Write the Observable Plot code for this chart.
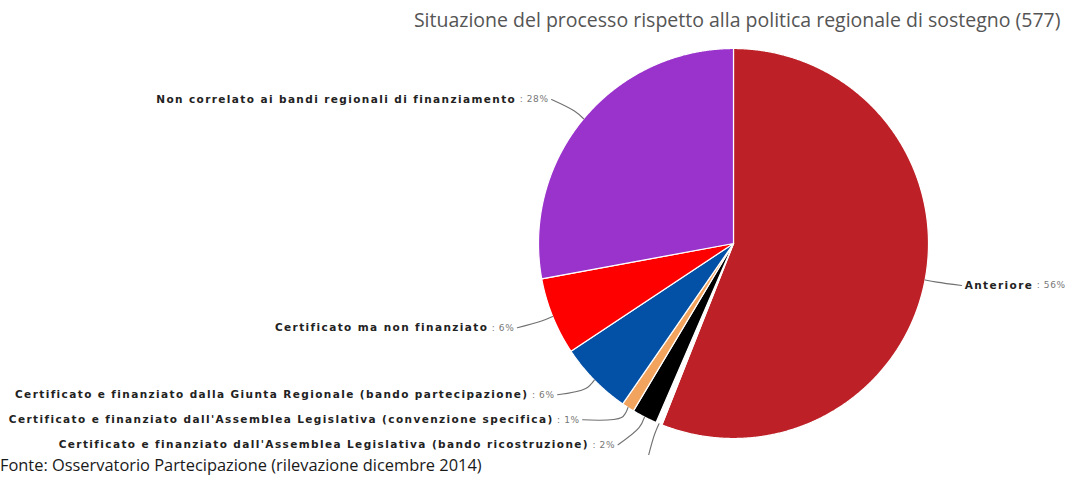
<!DOCTYPE html>
<html><head><meta charset="utf-8">
<script src="https://cdn.jsdelivr.net/npm/d3@7"></script>
<script src="https://cdn.jsdelivr.net/npm/@observablehq/plot@0.6"></script>
<style>
body{margin:0;background:#fff;}
#chart svg{display:block;overflow:hidden}
#foot{font-family:"Open Sans";font-size:16.4px;color:#1a1a1a;height:22px;line-height:20px;white-space:nowrap}
</style></head><body>
<div id="chart"></div>
<div id="foot">Fonte: Osservatorio Partecipazione (rilevazione dicembre 2014)</div>
<script>
// ---- data ----
const title = "Situazione del processo rispetto alla politica regionale di sostegno (577)";
const categories = [
  "Anteriore",
  "",
  "Certificato e finanziato dall'Assemblea Legislativa (bando ricostruzione)",
  "Certificato e finanziato dall'Assemblea Legislativa (convenzione specifica)",
  "Certificato e finanziato dalla Giunta Regionale (bando partecipazione)",
  "Certificato ma non finanziato",
  "Non correlato ai bandi regionali di finanziamento"
];
const counts = [323, 3, 12, 6, 35, 37, 161];
const pctLabels = ["56%", "", "2%", "1%", "6%", "6%", "28%"];
const colors = ["#BD2127", "#FFFFFF", "#000000", "#F2A35E", "#0351A6", "#FF0000", "#9A33CC"];

// ---- layout ----
const W = 1077, H = 455;
const cx = 733, cy = 243, r = 195, R = 232, RY = 225, gap = 25;
const LS_NAME = 1.4, LS_PCT = 0.6;

const arcs = d3.pie().sort(null).value(d => d)(counts);
const sliceRows = [];
arcs.forEach((a, i) => {
  sliceRows.push({i, x: cx, y: cy});
  const n = Math.max(2, Math.ceil((a.endAngle - a.startAngle) / 0.005));
  for (let k = 0; k <= n; k++) {
    const t = a.startAngle + (a.endAngle - a.startAngle) * k / n;
    sliceRows.push({i, x: cx + r * Math.sin(t), y: cy - r * Math.cos(t)});
  }
  sliceRows.push({i, x: cx, y: cy});
});

const labels = arcs.map((a, i) => {
  const m = (a.startAngle + a.endAngle) / 2;
  return {i, m, left: Math.sin(m) < 0, ideal: cy - RY * Math.cos(m)};
});
function distribute(items) {
  items.sort((a, b) => a.ideal - b.ideal);
  const place = c => { c.start = d3.mean(c.items, d => d.ideal) - (c.items.length - 1) * gap / 2; };
  const clusters = items.map(it => ({items: [it]}));
  clusters.forEach(place);
  let merged = true;
  while (merged) {
    merged = false;
    for (let k = 0; k < clusters.length - 1; k++) {
      const a = clusters[k], b = clusters[k + 1];
      if (a.start + a.items.length * gap > b.start) {
        a.items = a.items.concat(b.items); place(a); clusters.splice(k + 1, 1); merged = true; break;
      }
    }
  }
  clusters.forEach(c => c.items.forEach((it, j) => it.y = c.start + j * gap));
}
distribute(labels.filter(d => d.left));
distribute(labels.filter(d => !d.left));
labels.forEach(d => {
  const dy = d.y - cy;
  const circ = Math.sqrt(Math.max(0, R * R - dy * dy));
  const idealX = cx + R * Math.sin(d.m);
  d.x = d.left ? Math.min(cx - circ, idealX) : Math.max(cx + circ, idealX);
});

const ctx = document.createElement("canvas").getContext("2d");
function measure(text, font, ls) { ctx.font = font; return ctx.measureText(text).width + ls * text.length; }
const nameFont = "bold 10.5px 'DejaVu Sans'", pctFont = "9px 'DejaVu Sans'";

const connRows = [], nameL = [], nameR = [], pctL = [], pctR = [];
labels.forEach(d => {
  const s = Math.sin(d.m), c = Math.cos(d.m);
  connRows.push({i: d.i, x: cx + r * s, y: cy - r * c});
  connRows.push({i: d.i, x: cx + (r + 12) * s, y: cy - (r + 12) * c});
  connRows.push({i: d.i, x: d.x, y: d.y});
  const pct = pctLabels[d.i] ? " : " + pctLabels[d.i] : "";
  const name = categories[d.i];
  if (!name) return;
  const pw = measure(pct, pctFont, LS_PCT), nw = measure(name, nameFont, LS_NAME);
  if (d.left) {
    pctL.push({x: d.x - 3, y: d.y, t: pct});
    nameL.push({x: d.x - 3 - pw, y: d.y, t: name});
  } else {
    nameR.push({x: d.x + 3, y: d.y, t: name});
    pctR.push({x: d.x + 3 + nw, y: d.y, t: pct});
  }
});

const nameOpts = {x: "x", y: "y", text: "t", fill: "#222", fontWeight: "bold", fontSize: 10.5};
const pctOpts = {x: "x", y: "y", text: "t", fill: "#777", fontSize: 9};

const chart = Plot.plot({
  width: W, height: H,
  margin: 0,
  x: {domain: [0, W], range: [0, W], axis: null},
  y: {domain: [0, H], range: [0, H], axis: null},
  color: {type: "identity"},
  style: {fontFamily: "'DejaVu Sans'", background: "white", overflow: "hidden"},
  marks: [
    Plot.line(sliceRows, {x: "x", y: "y", z: "i", fill: d => colors[d.i], stroke: "white", strokeWidth: 1.2, strokeLinejoin: "round"}),
    Plot.line(connRows, {x: "x", y: "y", z: "i", stroke: "#707070", strokeWidth: 1.1, curve: "catmull-rom"}),
    Plot.text(nameL, {...nameOpts, textAnchor: "end"}),
    Plot.text(nameR, {...nameOpts, textAnchor: "start"}),
    Plot.text(pctL, {...pctOpts, textAnchor: "end"}),
    Plot.text(pctR, {...pctOpts, textAnchor: "start"}),
    Plot.text([title], {text: d => d, frameAnchor: "top-right", dx: -17, dy: 13, fontFamily: "'Open Sans'", fontSize: 19.5, fill: "#555"})
  ]
});
const nameSet = new Set(categories.filter(Boolean));
const pctSet = new Set(pctLabels.filter(Boolean).map(p => " : " + p));
d3.select(chart).selectAll("text").each(function () {
  const t = this.textContent;
  if (nameSet.has(t)) this.style.letterSpacing = LS_NAME + "px";
  else if (pctSet.has(t)) this.style.letterSpacing = LS_PCT + "px";
});
document.getElementById("chart").appendChild(chart);
</script>
</body></html>
